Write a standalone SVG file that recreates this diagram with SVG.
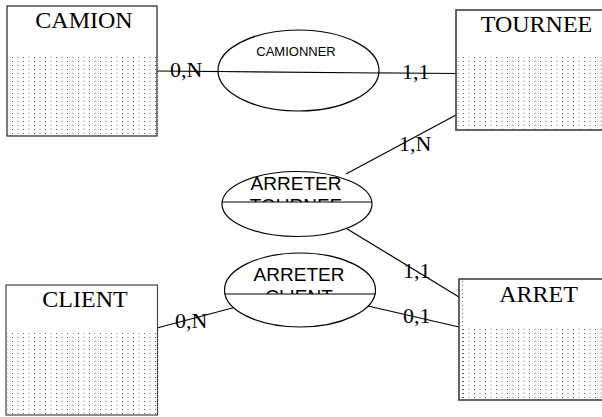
<svg xmlns="http://www.w3.org/2000/svg" width="602" height="417" viewBox="0 0 602 417">
<defs>
<pattern id="dots" x="0" y="0" width="11" height="4" patternUnits="userSpaceOnUse">
<rect x="1" y="1" width="1" height="1" fill="#555"/>
<rect x="6.5" y="0.5" width="1" height="1.5" fill="#999"/>
</pattern>
<pattern id="vdots" x="0" y="0" width="2" height="4" patternUnits="userSpaceOnUse">
<rect x="0" y="1" width="1" height="1" fill="#666"/>
</pattern>
<clipPath id="clipAT"><rect x="200" y="150" width="200" height="52"/></clipPath>
<clipPath id="clipAC"><rect x="200" y="240" width="200" height="54"/></clipPath>
</defs>
<style>
.box{fill:#fff;stroke:#222;stroke-width:1.2}
.title{font-family:"Liberation Serif",serif;font-size:24px;fill:#000;text-anchor:middle}
.card{font-family:"Liberation Serif",serif;font-size:22px;fill:#000}
.rel{fill:#fff;stroke:#000;stroke-width:1.2}
.rtext{font-family:"Liberation Sans",Arial,sans-serif;fill:#000;text-anchor:middle}
.conn{stroke:#000;stroke-width:1.2;fill:none}
</style>
<g id="connectors">
<line class="conn" x1="157" y1="71" x2="456" y2="73.5"/>
<line class="conn" x1="346" y1="174" x2="456" y2="115"/>
<line class="conn" x1="344" y1="227" x2="459" y2="297"/>
<line class="conn" x1="157" y1="328" x2="236" y2="307"/>
<line class="conn" x1="368" y1="306" x2="459" y2="327"/>
</g>
<g id="CAMION">
<rect class="box" x="7" y="6" width="150" height="130"/>
<rect x="8" y="55" width="148" height="80" fill="url(#dots)"/>
<rect x="11" y="8" width="1" height="127" fill="url(#vdots)"/>
<text class="title" x="84" y="28">CAMION</text>
</g>
<g id="TOURNEE">
<rect class="box" x="456" y="10" width="160" height="120" style="stroke:#555;stroke-width:1.8"/>
<rect x="457" y="57" width="150" height="72" fill="url(#dots)"/>
<rect x="461" y="12" width="1" height="117" fill="url(#vdots)"/>
<text class="title" x="536.5" y="32">TOURNEE</text>
</g>
<g id="CLIENT">
<rect class="box" x="6" y="285" width="151.5" height="130" style="stroke:#444"/>
<rect x="7" y="333" width="150" height="81" fill="url(#dots)"/>
<rect x="11" y="287" width="1" height="127" fill="url(#vdots)"/>
<text class="title" x="85" y="307">CLIENT</text>
</g>
<g id="ARRET">
<rect class="box" x="459" y="279" width="160" height="121" style="stroke:#333;stroke-width:1.5"/>
<rect x="460" y="328" width="150" height="71" fill="url(#dots)"/>
<rect x="462" y="281" width="1" height="118" fill="url(#vdots)"/>
<text class="title" x="538.5" y="302">ARRET</text>
</g>
<g id="CAMIONNER">
<ellipse class="rel" cx="298.5" cy="70.5" rx="80.5" ry="40.5"/>
<line class="conn" x1="218" y1="71.5" x2="379" y2="73"/>
<text class="rtext" x="296" y="56" font-size="13">CAMIONNER</text>
</g>
<g id="ARRETER_TOURNEE">
<ellipse class="rel" cx="297" cy="204" rx="75" ry="32.5"/>
<line class="conn" x1="222" y1="202" x2="372" y2="202"/>
<g clip-path="url(#clipAT)">
<text class="rtext" x="296" y="190" font-size="19">ARRETER</text>
<text class="rtext" x="296" y="212" font-size="19">TOURNEE</text>
</g>
</g>
<g id="ARRETER_CLIENT">
<ellipse class="rel" cx="300" cy="290" rx="75.5" ry="37"/>
<line class="conn" x1="225" y1="294" x2="375.5" y2="294"/>
<g clip-path="url(#clipAC)">
<text class="rtext" x="299" y="281" font-size="19">ARRETER</text>
<text class="rtext" x="299" y="303" font-size="19">CLIENT</text>
</g>
</g>
<g id="labels">
<text class="card" x="170" y="77">0,N</text>
<text class="card" x="402" y="79">1,1</text>
<text class="card" x="399" y="151">1,N</text>
<text class="card" x="403" y="278">1,1</text>
<text class="card" x="403" y="323">0,1</text>
<text class="card" x="175" y="328">0,N</text>
</g>
</svg>
